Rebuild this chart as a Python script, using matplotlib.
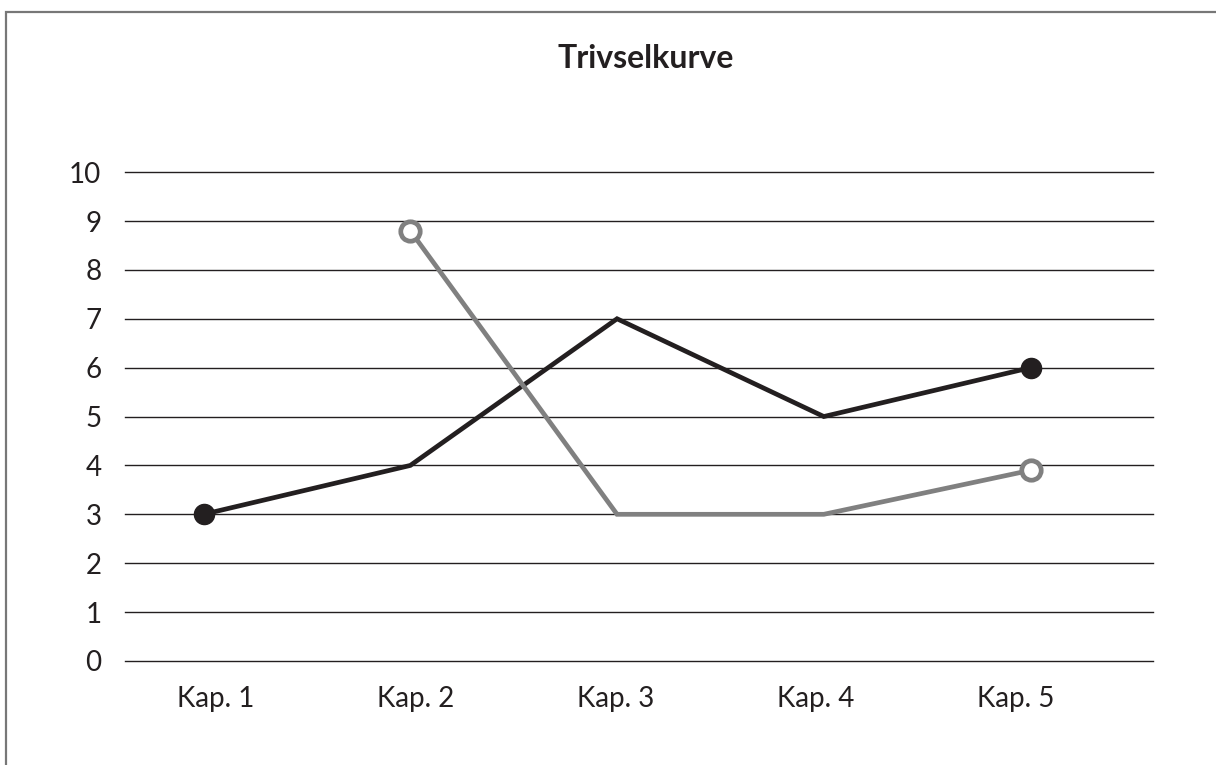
import matplotlib.pyplot as plt
from matplotlib.patches import Rectangle

# Data
kapitler = ["Kap. 1", "Kap. 2", "Kap. 3", "Kap. 4", "Kap. 5"]
svart = [3, 4, 7, 5, 6]
graa = [None, 8.8, 3, 3, 3.9]
y_ticks = list(range(0, 11))

SORT = "#231f20"
GRAA = "#808080"

plt.rcParams["font.family"] = ["Lato", "DejaVu Sans"]

fig = plt.figure(figsize=(12.16, 7.65), dpi=100)
ax = fig.add_axes([0.1028, 0.136, 0.845, 0.639])

x = list(range(len(kapitler)))

# horisontale linjer
for v in y_ticks:
    ax.axhline(v, color=SORT, lw=1.0, zorder=1, clip_on=False)

ax.plot(x, svart, color=SORT, lw=3.4, zorder=3, solid_joinstyle="miter")
ax.plot([x[0], x[-1]], [svart[0], svart[-1]], "o", color=SORT,
        ms=14.5, zorder=4)

gx = [i for i, v in zip(x, graa) if v is not None]
gy = [v for v in graa if v is not None]
ax.plot(gx, gy, color=GRAA, lw=3.4, zorder=3, solid_joinstyle="miter")
ax.plot([gx[0], gx[-1]], [gy[0], gy[-1]], "o", mfc="white", mec=GRAA,
        mew=3.4, ms=14, zorder=4, clip_on=False)

ax.set_xlim(-0.38, 4.59)
ax.set_ylim(0, 10)
# etikettene står litt tettere enn punktene
ax.set_xticks([0.058 + 0.967 * i for i in x])
ax.set_xticklabels(kapitler)
ax.set_yticks(y_ticks)
ax.tick_params(length=0, labelsize=20, colors=SORT)
ax.tick_params(axis="y", pad=17)
ax.tick_params(axis="x", pad=18)
for s in ax.spines.values():
    s.set_visible(False)

fig.text(0.531, 0.924, "Trivselkurve", ha="center", va="center",
         fontsize=23, fontweight="bold", color=SORT)

# ramme rundt figuren (går ut over kanten til høyre og nederst)
fig.patches.append(Rectangle((6 / 1216, -0.05), 1.1, 1 - 12 / 765 + 0.05,
                             transform=fig.transFigure, fill=False,
                             ec="#777777", lw=1.6))

fig.savefig("out.png", dpi=100)
